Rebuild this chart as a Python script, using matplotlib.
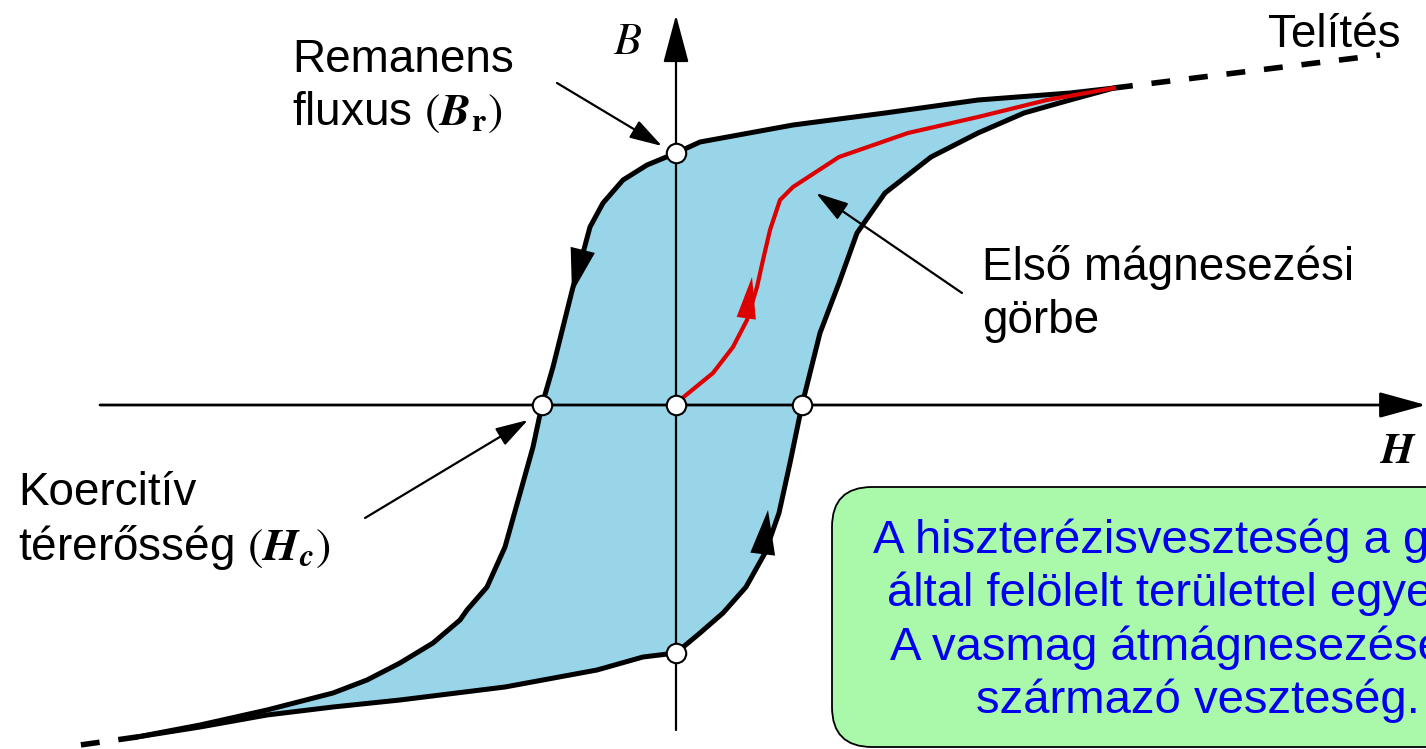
import numpy as np
import matplotlib
matplotlib.use('Agg')
import matplotlib.pyplot as plt
from matplotlib.patches import FancyBboxPatch

plt.rcParams['font.family'] = ['Liberation Sans', 'DejaVu Sans']
plt.rcParams['mathtext.fontset'] = 'stix'

# hysteresis loop (H to the right, B up, origin at the axes crossing)
desc_H = [438, 394, 302, 209, 117, 24, 0, -29, -53, -73, -86, -93, -103, -113, -123, -134,
          -143, -157, -171, -189, -209, -216, -243, -276, -309, -343, -409, -476, -539]
desc_B = [317, 312, 305, 292, 280, 263, 252, 240, 225, 202, 178, 152, 118, 78, 38, 0,
          -42, -92, -142, -182, -205, -215, -238, -258, -275, -288, -305, -320, -332]

asc_H = [-539, -476, -409, -343, -276, -171, -79, -33, 0, 24, 47, 70, 89, 103, 114, 126,
         144, 163, 181, 209, 255, 302, 348, 394, 438]
asc_B = [-332, -322, -310, -302, -295, -282, -265, -252, -248, -228, -208, -182, -148, -108, -58, 0,
         72, 122, 172, 212, 248, 272, 292, 305, 317]

# first magnetization curve
first_H = [0, 4, 37, 57, 71, 81, 87, 94, 104, 117, 163, 232, 302, 371, 438]
first_B = [0, 5, 32, 58, 85, 118, 145, 175, 205, 218, 248, 272, 288, 305, 317]

# saturation extensions (dashed)
sat_hi_H, sat_hi_B = [438, 704], [317, 350]
sat_lo_H, sat_lo_B = [-539, -603], [-332, -341]

# marked points: Br, -Br, Hc, -Hc, origin
mark_H = [0, 0, -134, 126, 0]
mark_B = [252, -248, 0, 0, 0]

fig = plt.figure(figsize=(14.26, 7.49), dpi=100)
ax = fig.add_axes([0, 0, 1, 1])
ax.set_xlim(-676, 750)
ax.set_ylim(-344, 405)
ax.axis('off')

# loop area
ax.fill(desc_H + asc_H, desc_B + asc_B, color='#99d5e8', zorder=1, lw=0)

# axes with arrows
ax.annotate('', xy=(750, 0), xytext=(-576, 0),
            arrowprops=dict(arrowstyle='-|>,head_length=2.9,head_width=0.8', mutation_scale=10,
                            lw=2, color='black', shrinkA=0, shrinkB=0), zorder=2)
ax.annotate('', xy=(0, 390), xytext=(0, -325),
            arrowprops=dict(arrowstyle='-|>,head_length=3.0,head_width=0.8', mutation_scale=10,
                            lw=1.6, color='black', shrinkA=0, shrinkB=0), zorder=2)
ax.text(-48, 363, '$B$', fontsize=33, ha='center', va='center')
ax.text(722, -47, r'$\mathbfit{H}$', fontsize=31, ha='center', va='center')

# loop curves
ax.plot(desc_H, desc_B, color='black', lw=3.6, zorder=3, solid_capstyle='round')
ax.plot(asc_H, asc_B, color='black', lw=3.6, zorder=3, solid_capstyle='round')
ax.plot(first_H, first_B, color='#dd0000', lw=3, zorder=4)
ax.plot(sat_hi_H, sat_hi_B, color='black', lw=4, ls=(0, (3.4, 3.4)), zorder=3)
ax.plot(sat_lo_H, sat_lo_B, color='black', lw=4, ls=(0, (3.4, 3.4)), zorder=3)

# direction arrows on the curves
ax.annotate('', xy=(-104, 112), xytext=(-92, 160),
            arrowprops=dict(arrowstyle='-|>,head_length=3.2,head_width=0.9', mutation_scale=10,
                            lw=0, color='black', shrinkA=0, shrinkB=0), zorder=4)
ax.annotate('', xy=(92, -105), xytext=(86, -155),
            arrowprops=dict(arrowstyle='-|>,head_length=3.2,head_width=0.9', mutation_scale=10,
                            lw=0, color='black', shrinkA=0, shrinkB=0), zorder=4)
ax.annotate('', xy=(76, 128), xytext=(70, 85),
            arrowprops=dict(arrowstyle='-|>,head_length=3.0,head_width=0.7', mutation_scale=10,
                            lw=0, color='#dd0000', shrinkA=0, shrinkB=0), zorder=5)

ax.plot(mark_H, mark_B, 'o', ms=14, mfc='white', mec='black', mew=1.5, zorder=6)

# labels with pointer arrows
arrow_kw = dict(arrowstyle='-|>,head_length=2.0,head_width=0.6', mutation_scale=10,
                lw=1.6, color='black', shrinkA=0, shrinkB=0)
ax.annotate('', xy=(-14, 259), xytext=(-119, 322), arrowprops=arrow_kw, zorder=5)
ax.annotate('', xy=(-148, -15), xytext=(-311, -113), arrowprops=arrow_kw, zorder=5)
ax.annotate('', xy=(140, 212), xytext=(286, 112), arrowprops=arrow_kw, zorder=5)

fs = 33
ax.text(-384, 333, 'Remanens', fontsize=fs, va='baseline')
ax.text(-384, 280, r'fluxus $(\mathbfit{B}_{\mathbf{r}})$', fontsize=fs, va='baseline')
ax.text(-658, -100, 'Koercitív', fontsize=fs, va='baseline')
ax.text(-658, -155, r'térerősség $(\mathbfit{H}_{\mathbfit{c}})$', fontsize=fs, va='baseline')
ax.text(592, 358, 'Telítés', fontsize=fs, va='baseline')
ax.text(306, 125, 'Első mágnesezési', fontsize=fs, va='baseline')
ax.text(306, 72, 'görbe', fontsize=fs, va='baseline')

# note box (runs past the right edge like the original slide)
box = FancyBboxPatch((156, -342), 760, 260, boxstyle='round,pad=0,rounding_size=40',
                     fc='#aaf8aa', ec='black', lw=1.3, zorder=2, clip_on=False)
ax.add_patch(box)
note_lines = ['A hiszterézisveszteség a görbe',
              'által felölelt területtel egyenlő.',
              'A vasmag átmágnesezéséből',
              'származó veszteség.']
for i, line in enumerate(note_lines):
    ax.text(522, -148 - 53.3 * i, line, fontsize=34, color='#0000ee', ha='center', va='baseline', zorder=3)

plt.savefig('out.png', dpi=100)
